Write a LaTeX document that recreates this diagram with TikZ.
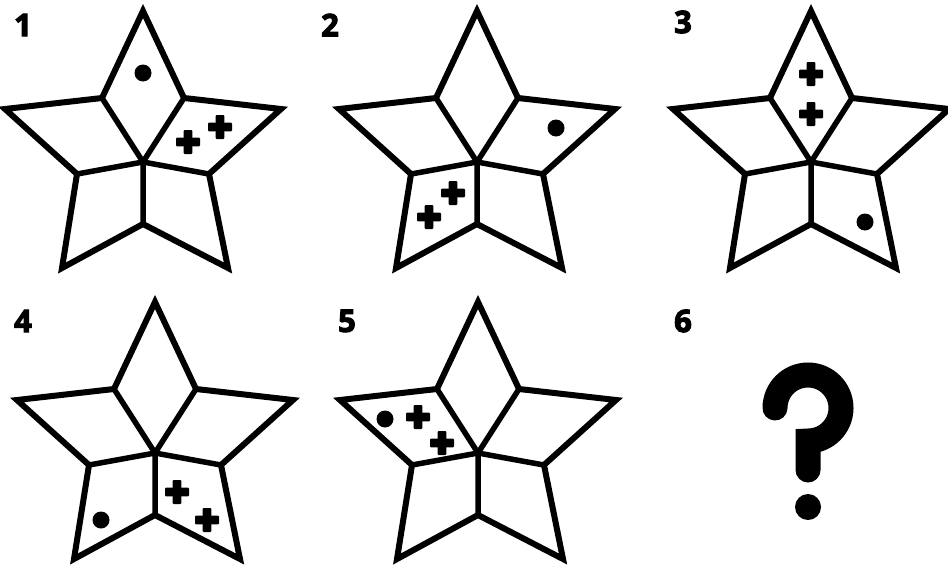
\documentclass[tikz,border=0pt]{standalone}
\usepackage{fontspec}
\setmainfont{Open Sans}
\newfontfamily\numfont{Open Sans}[BoldFeatures={FakeBold=3.5}]
\begin{document}
\begin{tikzpicture}[x=1pt,y=-1pt,line join=miter,
  star/.pic={
    \draw[line width=6pt] (0,-151) -- (41,-64) -- (138,-53) -- (66,12) -- (85,106) -- (0,62)
      -- (-81,106) -- (-66,12) -- (-138,-53) -- (-41,-64) -- cycle;
    \draw[line width=5.5pt] (-41,-64) -- (0,0) -- (41,-64) (-66,12) -- (0,0) -- (66,12) (0,0) -- (0,62);
  },
  plus/.pic={
    \fill[rounded corners=1pt] (-12,-4.3) rectangle (12,4.3);
    \fill[rounded corners=1pt] (-4.3,-12) rectangle (4.3,12);
  },
  numlabel/.style={font=\fontsize{31}{31}\numfont\bfseries,inner sep=0pt}]
\useasboundingbox (0,0) rectangle (948,570);
% labels
\node[numlabel] (n1) at (23,25) {1};
\node[numlabel] (n2) at (330,25) {2};
\node[numlabel] (n3) at (683,22) {3};
\node[numlabel] (n4) at (23,321) {4};
\node[numlabel] (n5) at (347,321) {5};
\node[numlabel] (n6) at (683,321) {6};
% star 1
\pic at (143,162) {star};
\fill (143,73) circle (8.5pt);
\pic at (188,142) {plus};
\pic at (220,127) {plus};
% star 2
\pic at (477,162) {star};
\fill (556,128) circle (8.5pt);
\pic at (453,193) {plus};
\pic at (429,217) {plus};
% star 3
\pic at (811,162) {star};
\fill (865,222) circle (8.5pt);
\pic at (811,74) {plus};
\pic at (811,114) {plus};
% star 4
\pic at (155,453) {star};
\fill (101,520) circle (8.5pt);
\pic at (177,492) {plus};
\pic at (207,520) {plus};
% star 5
\pic at (478,453) {star};
\fill (385,419) circle (8.5pt);
\pic at (418,417) {plus};
\pic at (442,443) {plus};
% question mark
\draw[line width=25pt,line cap=round] (775,408) arc[start angle=180,end angle=450,radius=33] -- (808,470);
\fill (808,507) circle (13pt);
\end{tikzpicture}
\end{document}
